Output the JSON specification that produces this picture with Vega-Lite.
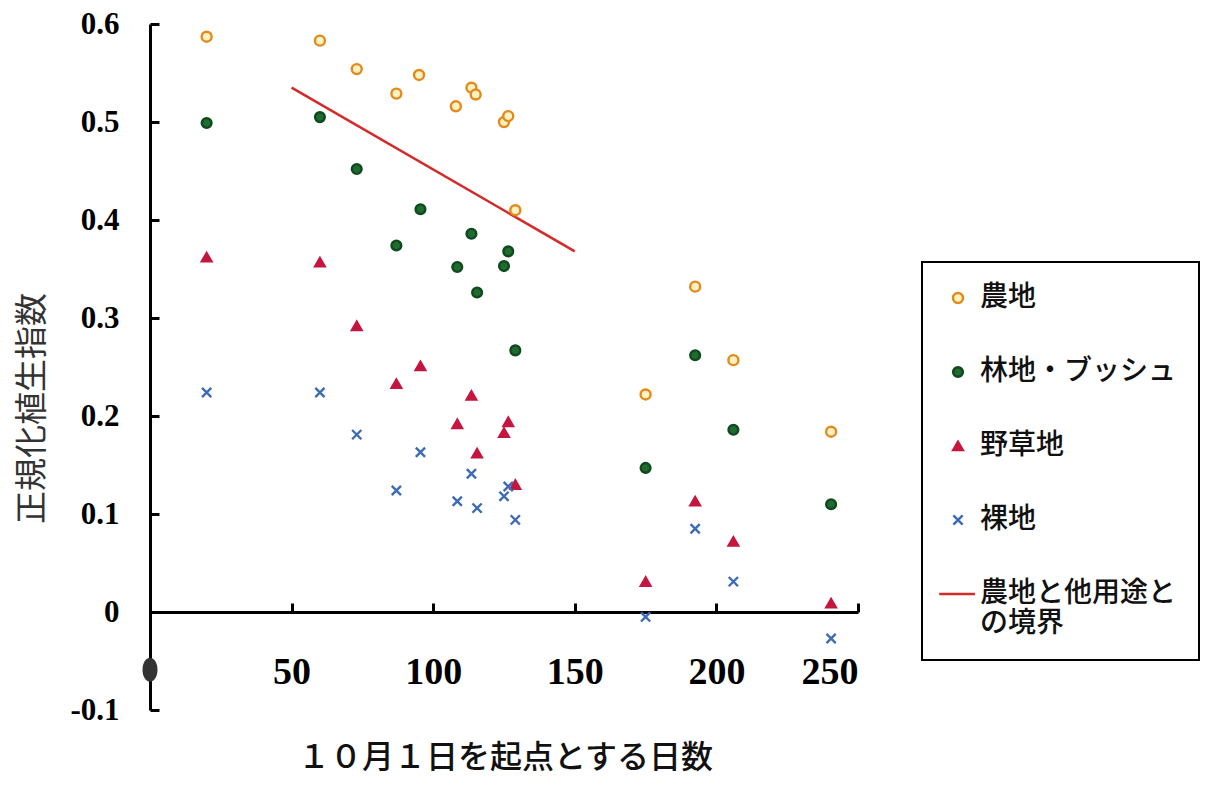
{
  "$schema": "https://vega.github.io/schema/vega-lite/v6.json",
  "autosize": {"type": "none"},
  "padding": {"left": 150, "top": 24, "right": 354, "bottom": 77},
  "width": 708,
  "height": 686,
  "background": "white",
  "config": {
    "view": {"stroke": null},
    "legend": {
      "strokeWidth": 2,
      "orient": "none",
      "legendX": 772,
      "legendY": 238,
      "strokeColor": "black",
      "padding": 22,
      "rowPadding": 46,
      "labelFont": "Noto Sans CJK JP",
      "labelFontSize": 28,
      "labelFontWeight": 500,
      "labelColor": "#111111",
      "labelOffset": 8,
      "labelLimit": 400,
      "symbolStrokeWidth": 2.5,
      "symbolOpacity": 1
    }
  },
  "datasets": {
    "points": [
      {"day": 20, "ndvi": 0.587, "cover": "農地"},
      {"day": 60, "ndvi": 0.583, "cover": "農地"},
      {"day": 73, "ndvi": 0.554, "cover": "農地"},
      {"day": 87, "ndvi": 0.529, "cover": "農地"},
      {"day": 95, "ndvi": 0.548, "cover": "農地"},
      {"day": 108, "ndvi": 0.516, "cover": "農地"},
      {"day": 113.5, "ndvi": 0.535, "cover": "農地"},
      {"day": 115, "ndvi": 0.528, "cover": "農地"},
      {"day": 125, "ndvi": 0.5, "cover": "農地"},
      {"day": 126.5, "ndvi": 0.506, "cover": "農地"},
      {"day": 129, "ndvi": 0.41, "cover": "農地"},
      {"day": 175, "ndvi": 0.222, "cover": "農地"},
      {"day": 192.5, "ndvi": 0.332, "cover": "農地"},
      {"day": 206, "ndvi": 0.257, "cover": "農地"},
      {"day": 240.5, "ndvi": 0.184, "cover": "農地"},
      {"day": 20, "ndvi": 0.499, "cover": "林地・ブッシュ"},
      {"day": 60, "ndvi": 0.505, "cover": "林地・ブッシュ"},
      {"day": 73, "ndvi": 0.452, "cover": "林地・ブッシュ"},
      {"day": 87, "ndvi": 0.374, "cover": "林地・ブッシュ"},
      {"day": 95.5, "ndvi": 0.411, "cover": "林地・ブッシュ"},
      {"day": 108.5, "ndvi": 0.352, "cover": "林地・ブッシュ"},
      {"day": 113.5, "ndvi": 0.386, "cover": "林地・ブッシュ"},
      {"day": 115.5, "ndvi": 0.326, "cover": "林地・ブッシュ"},
      {"day": 125, "ndvi": 0.353, "cover": "林地・ブッシュ"},
      {"day": 126.5, "ndvi": 0.368, "cover": "林地・ブッシュ"},
      {"day": 129, "ndvi": 0.267, "cover": "林地・ブッシュ"},
      {"day": 175, "ndvi": 0.147, "cover": "林地・ブッシュ"},
      {"day": 192.5, "ndvi": 0.262, "cover": "林地・ブッシュ"},
      {"day": 206, "ndvi": 0.186, "cover": "林地・ブッシュ"},
      {"day": 240.5, "ndvi": 0.11, "cover": "林地・ブッシュ"},
      {"day": 20, "ndvi": 0.362, "cover": "野草地"},
      {"day": 60, "ndvi": 0.357, "cover": "野草地"},
      {"day": 73, "ndvi": 0.292, "cover": "野草地"},
      {"day": 87, "ndvi": 0.233, "cover": "野草地"},
      {"day": 95.5, "ndvi": 0.251, "cover": "野草地"},
      {"day": 108.5, "ndvi": 0.192, "cover": "野草地"},
      {"day": 113.5, "ndvi": 0.221, "cover": "野草地"},
      {"day": 115.5, "ndvi": 0.162, "cover": "野草地"},
      {"day": 125, "ndvi": 0.183, "cover": "野草地"},
      {"day": 126.5, "ndvi": 0.194, "cover": "野草地"},
      {"day": 129, "ndvi": 0.13, "cover": "野草地"},
      {"day": 175, "ndvi": 0.031, "cover": "野草地"},
      {"day": 192.5, "ndvi": 0.113, "cover": "野草地"},
      {"day": 206, "ndvi": 0.072, "cover": "野草地"},
      {"day": 240.5, "ndvi": 0.009, "cover": "野草地"},
      {"day": 20, "ndvi": 0.224, "cover": "裸地"},
      {"day": 60, "ndvi": 0.224, "cover": "裸地"},
      {"day": 73, "ndvi": 0.181, "cover": "裸地"},
      {"day": 87, "ndvi": 0.124, "cover": "裸地"},
      {"day": 95.5, "ndvi": 0.163, "cover": "裸地"},
      {"day": 108.5, "ndvi": 0.113, "cover": "裸地"},
      {"day": 113.5, "ndvi": 0.141, "cover": "裸地"},
      {"day": 115.5, "ndvi": 0.106, "cover": "裸地"},
      {"day": 125, "ndvi": 0.118, "cover": "裸地"},
      {"day": 126.5, "ndvi": 0.128, "cover": "裸地"},
      {"day": 129, "ndvi": 0.094, "cover": "裸地"},
      {"day": 175, "ndvi": -0.005, "cover": "裸地"},
      {"day": 192.5, "ndvi": 0.085, "cover": "裸地"},
      {"day": 206, "ndvi": 0.031, "cover": "裸地"},
      {"day": 240.5, "ndvi": -0.027, "cover": "裸地"}
    ],
    "boundary": [
      {"day": 50, "ndvi": 0.535},
      {"day": 150, "ndvi": 0.368}
    ],
    "marker": [
      {"day": 0, "ndvi": -0.059}
    ]
  },
  "layer": [
    {
      "data": {"name": "boundary"},
      "mark": {"type": "line", "color": "#d42a2a", "strokeWidth": 2.5},
      "encoding": {
        "x": {"field": "day", "type": "quantitative"},
        "y": {"field": "ndvi", "type": "quantitative"}
      }
    },
    {
      "data": {"name": "marker"},
      "mark": {"type": "point", "shape": "M0,-1.6A1,1.6 0 1,1 0,1.6A1,1.6 0 1,1 0,-1.6Z", "size": 225, "filled": true, "color": "#333333", "opacity": 1},
      "encoding": {
        "x": {"field": "day", "type": "quantitative"},
        "y": {"field": "ndvi", "type": "quantitative"}
      }
    },
    {
      "data": {"name": "points"},
      "mark": {"type": "point", "strokeWidth": 2.4, "opacity": 1},
      "encoding": {
        "x": {
          "field": "day", "type": "quantitative",
          "scale": {"domain": [0, 250], "nice": false, "zero": false},
          "axis": {
            "title": "１０月１日を起点とする日数",
            "values": [50, 100, 150, 200, 250],
            "offset": -98,
            "grid": false,
            "domainColor": "black", "domainWidth": 3,
            "tickColor": "black", "tickWidth": 3, "tickSize": -9,
            "labelFont": "Liberation Serif", "labelFontWeight": "bold", "labelFontSize": 38,
            "labelColor": "black", "labelPadding": 50, "labelBaseline": "top",
            "titleFont": "Noto Sans CJK JP", "titleFontSize": 32, "titleFontWeight": 500,
            "titleColor": "#111111", "titleX": 355, "titleY": 145, "titleBaseline": "middle", "titleAnchor": null
          }
        },
        "y": {
          "field": "ndvi", "type": "quantitative",
          "scale": {"domain": [-0.1, 0.6], "nice": false, "zero": false},
          "axis": {
            "title": "正規化植生指数",
            "values": [-0.1, 0, 0.1, 0.2, 0.3, 0.4, 0.5, 0.6],
            "labelExpr": "toString(round(datum.value*10)/10)",
            "grid": false,
            "domainColor": "black", "domainWidth": 3,
            "tickColor": "black", "tickWidth": 3, "tickSize": -9,
            "labelFont": "Liberation Serif", "labelFontWeight": "bold", "labelFontSize": 31,
            "labelColor": "black", "labelPadding": 40,
            "titleFont": "Noto Sans CJK JP", "titleFontSize": 33, "titleFontWeight": "normal",
            "titleColor": "#333333", "titleX": -118, "titleY": 384, "titleBaseline": "middle", "titleAngle": -90
          }
        },
        "shape": {
          "field": "cover", "type": "nominal",
          "scale": {
            "domain": ["農地", "林地・ブッシュ", "野草地", "裸地", "農地と他用途との境界"],
            "range": ["circle", "circle", "triangle-up", "M-1,-1L1,1M-1,1L1,-1", "M-4.2,0L3.8,0"]
          },
          "legend": {
            "title": null,
            "labelExpr": "datum.label == '農地と他用途との境界' ? ['農地と他用途と', 'の境界'] : datum.label"
          }
        },
        "fill": {
          "field": "cover", "type": "nominal",
          "scale": {
            "domain": ["農地", "林地・ブッシュ", "野草地", "裸地", "農地と他用途との境界"],
            "range": ["#fff1c2", "#1f6b30", "#c4163e", "transparent", "transparent"]
          },
          "legend": {
            "title": null,
            "labelExpr": "datum.label == '農地と他用途との境界' ? ['農地と他用途と', 'の境界'] : datum.label"
          }
        },
        "size": {
          "field": "cover", "type": "nominal",
          "scale": {
            "domain": ["農地", "林地・ブッシュ", "野草地", "裸地", "農地と他用途との境界"],
            "range": [100, 80, 120, 60, 100]
          },
          "legend": {
            "title": null,
            "labelExpr": "datum.label == '農地と他用途との境界' ? ['農地と他用途と', 'の境界'] : datum.label"
          }
        },
        "stroke": {
          "field": "cover", "type": "nominal",
          "scale": {
            "domain": ["農地", "林地・ブッシュ", "野草地", "裸地", "農地と他用途との境界"],
            "range": ["#e38a1c", "#0f4a1e", "#c4163e", "#3d6bb5", "#d42a2a"]
          },
          "legend": {
            "title": null,
            "labelExpr": "datum.label == '農地と他用途との境界' ? ['農地と他用途と', 'の境界'] : datum.label"
          }
        }
      }
    }
  ]
}
